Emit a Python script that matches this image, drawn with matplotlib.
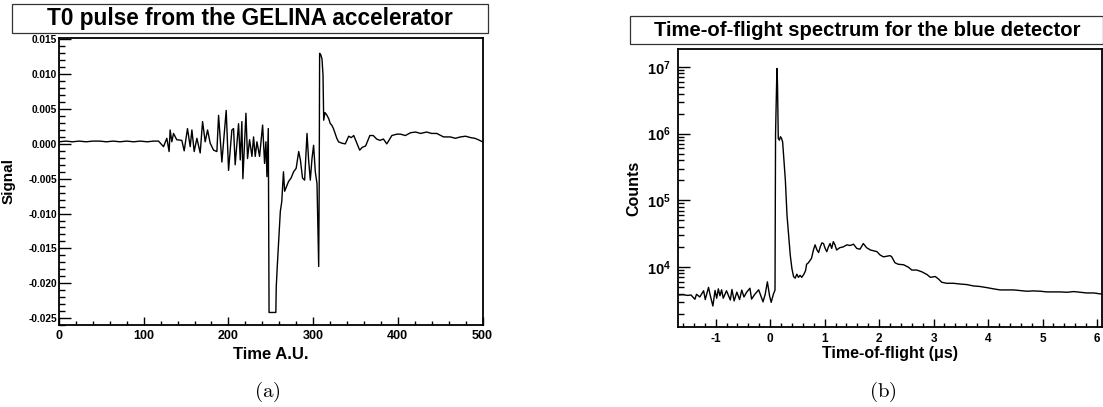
import numpy as np
import matplotlib
matplotlib.use("Agg")
import matplotlib.pyplot as plt
from matplotlib.ticker import (MultipleLocator, FormatStrFormatter, LogLocator,
                               FuncFormatter, NullFormatter)
from matplotlib.patches import Rectangle

plt.rcParams['font.family'] = ['Liberation Sans', 'DejaVu Sans']
plt.rcParams['font.weight'] = 'bold'
plt.rcParams['axes.unicode_minus'] = False
plt.rcParams['mathtext.fontset'] = 'custom'
plt.rcParams['mathtext.rm'] = 'Liberation Sans:bold'
plt.rcParams['mathtext.bf'] = 'Liberation Sans:bold'
plt.rcParams['mathtext.it'] = 'Liberation Sans:bold:italic'

# ---------------- data: (a) T0 pulse ----------------
pulse_title = "T0 pulse from the GELINA accelerator"
pulse_xlabel = "Time A.U."
pulse_ylabel = "Signal"
pulse_time = [
    0, 8, 16, 24, 32, 40, 48, 56, 64, 72,
    80, 88, 96, 104, 112, 117.5,
    123.4, 127.3, 130, 131.2, 133.2, 135.2, 139, 145, 147.8, 151.7,
    154.9, 156.9, 159.6, 162.8, 166.7, 169.5, 172.6, 175.4, 178.5, 182.5,
    186.4, 188.4, 192.3, 195.1, 197.4, 200.2, 204.1, 206.1, 208, 212,
    214, 215.9, 217.1, 220.7, 222.6, 225, 227.8, 229.7, 231.7, 233.7,
    236.8, 240.4, 242.7, 244.3, 245.5, 247.1,
    248, 256, 256.5, 258, 261.3, 263, 265, 266.4, 271, 274,
    277, 280, 283, 285, 287.5, 290, 292.8, 294.7, 296.7, 298.7,
    300.6, 302.6, 304.6, 306.6, 307.2, 307.7, 309, 310.5, 311.7, 312.5,
    314, 316.4, 318.5, 320.3, 322, 324, 326, 328, 330, 334,
    338, 342, 345, 348, 351, 355, 358, 362, 367, 371,
    375, 379, 383, 387, 393, 399, 403, 409, 415, 421,
    427, 434, 440, 446, 454, 462, 468, 474, 480, 486,
    491, 495, 500]
pulse_signal = [
    0.0003, 0.0004, 0.0003, 0.0004, 0.0003, 0.0004, 0.0004, 0.0003, 0.0004, 0.0003,
    0.0004, 0.0003, 0.0004, 0.0003, 0.0004, 0.0004,
    -0.0004, 0.0008, -0.0011, 0.0020, 0.0003, 0.0015, 0.0006, 0.0005, -0.0010, 0.0022,
    -0.0004, 0.0020, -0.0011, 0.0008, -0.0013, 0.0032, 0.0003, 0.0020, 0.0001, -0.0009,
    -0.0011, 0.0041, -0.0026, 0.0015, 0.0048, -0.0038, 0.0020, 0.0022, -0.0030, 0.0029,
    -0.0023, 0.0032, -0.0050, 0.0044, -0.0021, 0.0006, -0.0018, 0.0010, -0.0018, 0.0003,
    -0.0018, 0.0027, -0.0028, 0.0003, -0.0047, 0.0022,
    -0.0242, -0.0242, -0.0205, -0.0169, -0.0097, -0.0083, -0.0040, -0.0068, -0.0054, -0.0049,
    -0.0040, -0.0035, -0.0011, -0.0023, -0.0049, -0.0052, 0.0015, -0.0023, -0.0052, -0.0021,
    -0.0002, -0.0040, -0.0057, -0.0176, -0.0060, 0.0130, 0.0128, 0.0122, 0.0099, 0.0034,
    0.0045, 0.0041, 0.0036, 0.0029, 0.0027, 0.0022, 0.0015, 0.0008, 0.0003, 0.0001,
    0.0000, 0.0011, 0.0009, 0.0012, 0.0003, -0.0009, -0.0005, -0.0003, 0.0012, 0.0012,
    0.0007, 0.0005, 0.0007, 0.0000, 0.0012, 0.0014, 0.0014, 0.0012, 0.0016, 0.0017,
    0.0015, 0.0017, 0.0015, 0.0015, 0.0010, 0.0010, 0.0008, 0.0010, 0.0011, 0.0009,
    0.0008, 0.0006, 0.0003]

# ---------------- data: (b) time-of-flight spectrum ----------------
tof_title = "Time-of-flight spectrum for the blue detector"
tof_xlabel = "Time-of-flight (\u03bcs)"
tof_ylabel = "Counts"
tof_time = [
    -1.69, -1.60, -1.52, -1.45, -1.38, -1.35, -1.29, -1.22, -1.19, -1.13,
    -1.10, -1.07, -1.05, -1.01, -0.98, -0.95, -0.92, -0.89, -0.86, -0.80,
    -0.73, -0.70, -0.66, -0.61, -0.56, -0.52, -0.48, -0.43, -0.37, -0.34,
    -0.28, -0.21, -0.13, -0.09, -0.05, -0.01, 0.02, 0.06, 0.09, 0.095,
    0.10, 0.125, 0.135, 0.15, 0.17, 0.19, 0.21, 0.23, 0.25, 0.28,
    0.31, 0.34, 0.37, 0.40, 0.43, 0.46, 0.49, 0.52, 0.55, 0.58,
    0.62, 0.65, 0.67, 0.70, 0.73, 0.76, 0.795, 0.825, 0.86, 0.89,
    0.92, 0.95, 0.98, 1.01, 1.04, 1.07, 1.10, 1.13, 1.16, 1.19,
    1.22, 1.28, 1.34, 1.41, 1.47, 1.53, 1.59, 1.65, 1.71, 1.77,
    1.84, 1.90, 1.96, 2.02, 2.08, 2.14, 2.20, 2.23, 2.29, 2.35,
    2.45, 2.54, 2.60, 2.69, 2.78, 2.88, 2.94, 3.03, 3.09, 3.15,
    3.24, 3.36, 3.49, 3.61, 3.73, 3.85, 3.98, 4.10, 4.22, 4.34,
    4.47, 4.59, 4.71, 4.83, 4.96, 5.08, 5.20, 5.32, 5.45, 5.57,
    5.69, 5.81, 5.94, 6.06, 6.09]
tof_counts = [
    3800, 3850, 3750, 3800, 3280, 3900, 3550, 4400, 3250, 4950,
    3800, 3000, 2600, 4450, 3400, 4700, 3700, 4550, 3400, 4400,
    3200, 4600, 3100, 4200, 3250, 4500, 3550, 4200, 4800, 3300,
    3900, 4550, 3000, 3900, 6000, 3700, 2950, 3900, 4500, 70000,
    1.0e6, 9.5e6, 6.0e6, 8.5e5, 8.0e5, 9.0e5, 8.5e5, 7.5e5, 4.5e5, 2.0e5,
    6.0e4, 3.0e4, 1.5e4, 9500, 7200, 6800, 7800, 7000, 7500, 7000,
    7800, 8800, 11000, 11500, 12500, 13500, 18000, 21500, 18000, 16500,
    20000, 23000, 22500, 19000, 17000, 20000, 22500, 19000, 24000, 21500,
    18000, 19500, 20000, 21500, 21000, 22000, 19000, 18500, 22500, 19500,
    18000, 17500, 17000, 15100, 14200, 14500, 14800, 14300, 11600, 11000,
    10800, 9900, 9000, 9000, 8500, 7700, 7000, 7200, 6600, 5900,
    5700, 5700, 5550, 5450, 5200, 5100, 4900, 4700, 4530, 4530,
    4530, 4430, 4330, 4380, 4330, 4230, 4230, 4230, 4180, 4280,
    4180, 4080, 4080, 3950, 3950]

captions = ["(a)", "(b)"]

W, H = 1103, 407
fig = plt.figure(figsize=(W / 100, H / 100), dpi=100)


def fx(px):
    return px / W


def fy(py):
    return 1 - py / H


ax1 = fig.add_axes([fx(59), fy(325), fx(482.5) - fx(59), fy(38) - fy(325)])
ax2 = fig.add_axes([fx(678), fy(327), fx(1102) - fx(678), fy(49) - fy(327)])

for ax in (ax1, ax2):
    for s in ax.spines.values():
        s.set_linewidth(1.3)
    ax.tick_params(which='both', direction='in', top=False, right=False,
                   width=1.0, colors='black')

# ---- panel (a)
ax1.plot(pulse_time, pulse_signal, color='black', lw=1.0)
ax1.set_xlim(0, 500)
ax1.set_ylim(-0.0260, 0.0152)
ax1.xaxis.set_major_locator(MultipleLocator(100))
ax1.xaxis.set_minor_locator(MultipleLocator(20))
ax1.yaxis.set_major_locator(MultipleLocator(0.005))
ax1.yaxis.set_minor_locator(MultipleLocator(0.001))
ax1.yaxis.set_major_formatter(
    FuncFormatter(lambda v, p: '%.3f' % (0.0 if abs(v) < 1e-9 else v)))
ax1.xaxis.set_major_formatter(FormatStrFormatter('%d'))
ax1.tick_params(axis='x', which='major', length=5.8, labelsize=9, pad=3.5)
ax1.tick_params(axis='x', which='minor', length=2.9)
ax1.tick_params(axis='y', which='major', length=8.6, labelsize=7.3, pad=1.5)
ax1.tick_params(axis='y', which='minor', length=4.3)
for lab in ax1.get_xticklabels() + ax1.get_yticklabels():
    lab.set_fontweight('bold')
ax1.set_xlabel(pulse_xlabel, fontsize=12, fontweight='bold')
ax1.xaxis.set_label_coords(0.5, -0.075)
ax1.set_ylabel(pulse_ylabel, fontsize=11, fontweight='bold')
ax1.yaxis.set_label_coords(-0.102, 0.5)

# ---- panel (b)
ax2.plot(tof_time, tof_counts, color='black', lw=1.0)
ax2.set_yscale('log')
ax2.set_xlim(-1.69, 6.09)
ax2.set_ylim(10 ** 3.1, 10 ** 7.27)
ax2.xaxis.set_major_locator(MultipleLocator(1))
ax2.xaxis.set_minor_locator(MultipleLocator(0.2))
ax2.xaxis.set_major_formatter(FormatStrFormatter('%d'))
ax2.yaxis.set_major_locator(LogLocator(base=10, numticks=10))
ax2.yaxis.set_minor_locator(LogLocator(base=10, subs=np.arange(2, 10), numticks=20))
ax2.yaxis.set_minor_formatter(NullFormatter())
ax2.yaxis.set_major_formatter(
    FuncFormatter(lambda v, p: r'$\mathbf{10^{%d}}$' % int(round(np.log10(v)))))
ax2.tick_params(axis='x', which='major', length=5.8, labelsize=8.5, pad=4)
ax2.tick_params(axis='x', which='minor', length=2.9)
ax2.tick_params(axis='y', which='major', length=8.3, labelsize=10.5, pad=5)
ax2.tick_params(axis='y', which='minor', length=4.2)
for lab in ax2.get_xticklabels():
    lab.set_fontweight('bold')
ax2.set_xlabel(tof_xlabel, fontsize=11.5, fontweight='bold')
ax2.xaxis.set_label_coords(0.5, -0.068)
ax2.set_ylabel(tof_ylabel, fontsize=11.5, fontweight='bold')
ax2.yaxis.set_label_coords(-0.086, 0.5)

# ---- title boxes
fig.patches.append(Rectangle((fx(12), fy(33)), fx(488) - fx(12), fy(4) - fy(33),
                             transform=fig.transFigure, fill=False,
                             edgecolor='#333333', lw=0.9))
fig.text(fx(250), fy(18.5), pulse_title, ha='center', va='center',
         fontsize=16.3, fontweight='bold')
fig.patches.append(Rectangle((fx(630), fy(44)), fx(1102.5) - fx(630), fy(16) - fy(44),
                             transform=fig.transFigure, fill=False,
                             edgecolor='#333333', lw=0.9))
fig.text(fx(867.5), fy(30), tof_title, ha='center', va='center',
         fontsize=14.6, fontweight='bold')

# ---- captions
fig.text(fx(267), fy(392), r'$\mathrm{%s}$' % captions[0], ha='center', va='center',
         fontsize=15, math_fontfamily='cm')
fig.text(fx(883), fy(392), r'$\mathrm{%s}$' % captions[1], ha='center', va='center',
         fontsize=15, math_fontfamily='cm')

fig.savefig('out.png', dpi=100)
